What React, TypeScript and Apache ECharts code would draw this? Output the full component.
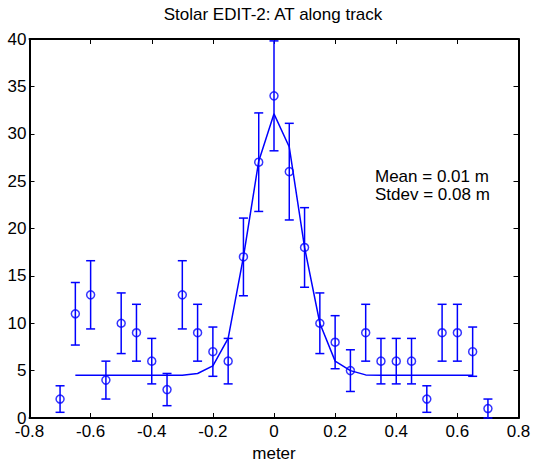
import React, { useEffect, useRef } from "react";
import * as echarts from "echarts";

const xPositions = [-0.7, -0.65, -0.6, -0.55, -0.5, -0.45, -0.4, -0.35, -0.3, -0.25, -0.2, -0.15, -0.1, -0.05, 0, 0.05, 0.1, 0.15, 0.2, 0.25, 0.3, 0.35, 0.4, 0.45, 0.5, 0.55, 0.6, 0.65, 0.7];
const counts = [2, 11, 13, 4, 10, 9, 6, 3, 13, 9, 7, 6, 17, 27, 34, 26, 18, 10, 8, 5, 9, 6, 6, 6, 2, 9, 9, 7, 1];
const errors = [1.4, 3.3, 3.6, 2.0, 3.2, 3.0, 2.4, 1.7, 3.6, 3.0, 2.6, 2.4, 4.1, 5.2, 5.8, 5.1, 4.2, 3.2, 2.8, 2.2, 3.0, 2.4, 2.4, 2.4, 1.4, 3.0, 3.0, 2.6, 1.0];

const fitX = [-0.65, -0.6, -0.55, -0.5, -0.45, -0.4, -0.35, -0.3, -0.25, -0.2, -0.15, -0.1, -0.05, 0, 0.05, 0.1, 0.15, 0.2, 0.25, 0.3, 0.35, 0.4, 0.45, 0.5, 0.55, 0.6, 0.65];
const fitY = [4.5, 4.5, 4.5, 4.5, 4.5, 4.5, 4.5, 4.5, 4.7, 5.5, 8.4, 17.0, 27.1, 32.1, 28.6, 18.0, 10.0, 6.0, 5.0, 4.55, 4.5, 4.5, 4.5, 4.5, 4.5, 4.5, 4.5];

const xTicks = { min: -0.8, max: 0.8, interval: 0.2 };
const yTicks = { min: 0, max: 40, interval: 5 };

const titleText = "Stolar EDIT-2: AT along track";
const xName = "meter";
const statLines = ["Mean = 0.01 m", "Stdev = 0.08 m"];

const BLUE = "#0000ff";
const FONT = "'Liberation Sans', Arial, Helvetica, sans-serif";
const FS = 17;

export default function App() {
  const ref = useRef<HTMLDivElement>(null);
  useEffect(() => {
    if (!ref.current) return;
    const chart = echarts.init(ref.current, undefined, { renderer: "svg" });
    const fmt = (v: number) => String(parseFloat(v.toFixed(2)));
    const axisCommon = {
      axisLine: { show: true, onZero: false, lineStyle: { color: "#000", width: 2 } },
      axisTick: { show: true, inside: true, length: 5, lineStyle: { color: "#000", width: 1 } },
      splitLine: { show: false },
    };
    const labelStyle = { color: "#000", fontSize: FS, fontFamily: FONT };
    const errData = xPositions.map((x, i) => [x, counts[i] - errors[i], counts[i] + errors[i]]);
    chart.setOption({
      animation: false,
      backgroundColor: "#fff",
      grid: { left: 29.5, right: 16.5, top: 39, bottom: 43, containLabel: false },
      xAxis: [
        {
          type: "value", position: "bottom", ...xTicks, ...axisCommon,
          axisLabel: { ...labelStyle, margin: 5, formatter: fmt, showMinLabel: true, showMaxLabel: true },
          name: xName, nameLocation: "middle", nameGap: 27,
          nameTextStyle: { ...labelStyle },
        },
        {
          type: "value", position: "top", ...xTicks, ...axisCommon,
          axisLabel: { show: false },
        },
      ],
      yAxis: [
        {
          type: "value", position: "left", ...yTicks, ...axisCommon,
          axisLabel: { ...labelStyle, margin: 3, formatter: fmt, padding: [4, 0, 0, 0] },
        },
        {
          type: "value", position: "right", ...yTicks, ...axisCommon,
          axisLabel: { show: false },
        },
      ],
      graphic: [
        {
          type: "text", x: 273, y: 14,
          style: { text: titleText, fill: "#000", font: `${FS}px ${FONT}`, textAlign: "center", textVerticalAlign: "middle" },
        },
        ...statLines.map((t, i) => ({
          type: "text", x: 375, y: 176 + i * 18.5,
          style: { text: t, fill: "#000", font: `${FS}px ${FONT}`, textAlign: "left", textVerticalAlign: "middle" },
        })),
      ],
      series: [
        {
          type: "line",
          data: fitX.map((x, i) => [x, fitY[i]]),
          showSymbol: false,
          symbol: "none",
          lineStyle: { color: BLUE, width: 1.5 },
          z: 2,
        },
        {
          type: "custom",
          data: errData,
          encode: { x: 0, y: [1, 2] },
          clip: false,
          renderItem: (params: any, api: any) => {
            const x = api.value(0);
            const lo = api.coord([x, api.value(1)]);
            const hi = api.coord([x, api.value(2)]);
            const hw = 4.5;
            const st = { stroke: BLUE, lineWidth: 1.5 };
            return {
              type: "group",
              children: [
                { type: "line", shape: { x1: lo[0], y1: lo[1], x2: hi[0], y2: hi[1] }, style: st },
                { type: "line", shape: { x1: lo[0] - hw, y1: lo[1], x2: lo[0] + hw, y2: lo[1] }, style: st },
                { type: "line", shape: { x1: hi[0] - hw, y1: hi[1], x2: hi[0] + hw, y2: hi[1] }, style: st },
              ],
            };
          },
          z: 3,
        },
        {
          type: "scatter",
          data: xPositions.map((x, i) => [x, counts[i]]),
          symbol: "circle",
          symbolSize: 8,
          itemStyle: { color: "transparent", borderColor: BLUE, borderWidth: 1.5 },
          z: 4,
        },
      ],
    });
    return () => chart.dispose();
  }, []);
  return <div ref={ref} style={{ position: "fixed", left: 0, top: 0, width: 535, height: 467 }} />;
}
